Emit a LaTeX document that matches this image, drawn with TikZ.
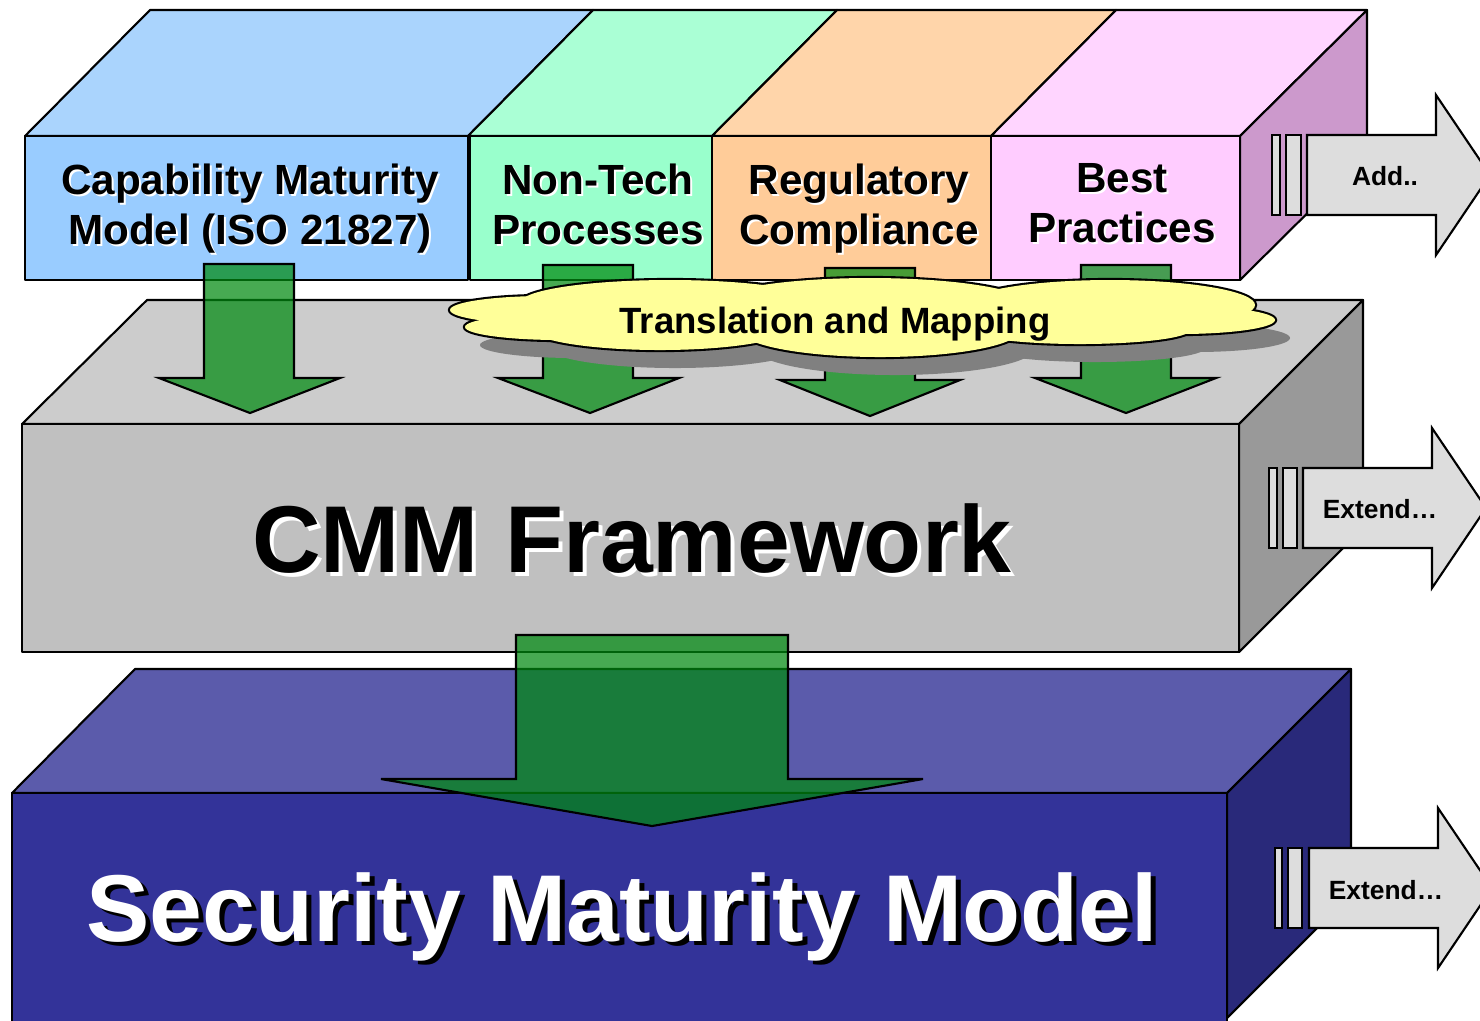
\documentclass[tikz,border=0pt]{standalone}
\usepackage{fontspec}
\setmainfont{Liberation Sans}
\usetikzlibrary{positioning}

\definecolor{blueTop}{HTML}{AAD4FD}
\definecolor{blueFront}{HTML}{99CCFF}
\definecolor{greenTop}{HTML}{AAFFD5}
\definecolor{greenFront}{HTML}{99FFCC}
\definecolor{orangeTop}{HTML}{FFD5AA}
\definecolor{orangeFront}{HTML}{FFCC99}
\definecolor{pinkTop}{HTML}{FFD5FF}
\definecolor{pinkFront}{HTML}{FFCCFF}
\definecolor{pinkSide}{HTML}{CC99CC}
\definecolor{grayTop}{HTML}{CCCCCC}
\definecolor{grayFront}{HTML}{C0C0C0}
\definecolor{graySide}{HTML}{999999}
\definecolor{navyTop}{HTML}{5B5BAB}
\definecolor{navyFront}{HTML}{333399}
\definecolor{navySide}{HTML}{29297A}
\definecolor{cloudYellow}{HTML}{FFFF99}
\definecolor{shadowGray}{HTML}{808080}
\definecolor{arrowGray}{HTML}{DDDDDD}
\definecolor{arrowGreen}{HTML}{008A10}

\tikzset{
	face/.style={draw=black, line width=0.6pt, line join=round},
	greenarrow/.style={draw=black, line width=0.6pt, line join=miter, fill=arrowGreen, fill opacity=0.72},
	grayarrow/.style={draw=black, line width=0.6pt, fill=arrowGray},
	toplbl/.style={font=\fontsize{12}{14.2}\selectfont\bfseries, align=center, inner sep=0, anchor=north},
	biglbl/.style={font=\fontsize{27}{30}\selectfont\bfseries, inner sep=0, anchor=base},
	sidelbl/.style={font=\fontsize{7.5}{9}\selectfont\bfseries, inner sep=0},
}

\begin{document}
\begin{tikzpicture}[x=0.01cm, y=-0.01cm]
	\useasboundingbox (0,0) rectangle (1480,1020);
	\clip (0,0) rectangle (1480,1020);
	\fill[white] (0,0) rectangle (1480,1020);

	% bottom block
	\draw[face, fill=navyTop] (12,793) -- (135,669) -- (1351,669) -- (1227,793) -- cycle;
	\draw[face, fill=navySide] (1227,793) -- (1351,669) -- (1351,894) -- (1227,1018) -- cycle;
	\draw[face, fill=navyFront] (12,793) rectangle (1227,1030);

	% middle block
	\draw[face, fill=grayTop] (22,424) -- (147,300) -- (1363,300) -- (1239,424) -- cycle;
	\draw[face, fill=graySide] (1239,424) -- (1363,300) -- (1363,528) -- (1239,652) -- cycle;
	\draw[face, fill=grayFront] (22,424) rectangle (1239,652);

	% top block
	\draw[face, fill=blueTop] (25,136) -- (150,10) -- (593,10) -- (468,136) -- cycle;
	\draw[face, fill=greenTop] (468,136) -- (593,10) -- (837,10) -- (712,136) -- cycle;
	\draw[face, fill=orangeTop] (712,136) -- (837,10) -- (1116,10) -- (991,136) -- cycle;
	\draw[face, fill=pinkTop] (991,136) -- (1116,10) -- (1367,10) -- (1240,136) -- cycle;
	\draw[face, fill=pinkSide] (1240,136) -- (1367,10) -- (1367,154) -- (1240,280) -- cycle;
	\draw[face, fill=blueFront] (25,136) rectangle (468,280);
	\draw[face, fill=greenFront] (470,136) rectangle (712,280);
	\draw[face, fill=orangeFront] (712,136) rectangle (991,280);
	\draw[face, fill=pinkFront] (991,136) rectangle (1240,280);

	% small green arrows
	\draw[greenarrow] (204,264) -- (294,264) -- (294,378) -- (340,378) -- (250,413) -- (159,378) -- (204,378) -- cycle;
	\draw[greenarrow] (543,265) -- (633,265) -- (633,378) -- (679,378) -- (590,413) -- (498,378) -- (543,378) -- cycle;
	\draw[greenarrow] (825,268) -- (915,268) -- (915,380) -- (960,380) -- (870,416) -- (780,380) -- (825,380) -- cycle;
	\draw[greenarrow] (1081,265) -- (1171,265) -- (1171,378) -- (1216,378) -- (1126,413) -- (1035,378) -- (1081,378) -- cycle;

	% cloud: shadow, outline, then fill
	\def\puffs{545/310/95/14, 560/327/95/13, 670/303/150/23, 870/305/160/27, 1110/305/145/25,
		1180/320/95/14, 1080/330/110/14, 880/330/140/27, 660/328/130/22, 860/318/330/22}
	\foreach \cx/\cy/\rx/\ry in \puffs
		\fill[shadowGray] (\cx+15,\cy+18) ellipse [x radius=\rx, y radius=\ry];
	\foreach \cx/\cy/\rx/\ry in \puffs
		\draw[black, line width=1.2pt] (\cx,\cy) ellipse [x radius=\rx, y radius=\ry];
	\foreach \cx/\cy/\rx/\ry in \puffs
		\fill[cloudYellow] (\cx,\cy) ellipse [x radius=\rx, y radius=\ry];
	\node[font=\fontsize{10.4}{12}\selectfont\bfseries, inner sep=0, anchor=base] (tm) at (835,333) {Translation and Mapping};

	% big green arrow
	\draw[greenarrow] (516,635) -- (788,635) -- (788,779) -- (923,779) -- (652,826) -- (381,779) -- (516,779) -- cycle;

	% side arrows
	\draw[grayarrow] (1272,135) rectangle (1280,215);
	\draw[grayarrow] (1286,135) rectangle (1301,215);
	\draw[grayarrow] (1307,135) -- (1436,135) -- (1436,95) -- (1490,175) -- (1436,255) -- (1436,215) -- (1307,215) -- cycle;
	\node[sidelbl] (add) at (1385,176) {Add..};

	\draw[grayarrow] (1269,468) rectangle (1277,548);
	\draw[grayarrow] (1283,468) rectangle (1297,548);
	\draw[grayarrow] (1303,468) -- (1432,468) -- (1432,428) -- (1486,508) -- (1432,588) -- (1432,548) -- (1303,548) -- cycle;
	\node[sidelbl] (ext1) at (1380,509) {Extend…};

	\draw[grayarrow] (1275,848) rectangle (1282,928);
	\draw[grayarrow] (1288,848) rectangle (1302,928);
	\draw[grayarrow] (1309,848) -- (1438,848) -- (1438,808) -- (1492,888) -- (1438,968) -- (1438,928) -- (1309,928) -- cycle;
	\node[sidelbl] (ext2) at (1386,890) {Extend…};

	% labels
	\begin{scope}
		\tikzstyle{every node}=[toplbl]
		\node[white] (cmmod-s) at (252,165) {Capability Maturity\\Model (ISO 21827)};
		\node (cmmod) at (250,163) {Capability Maturity\\Model (ISO 21827)};
		\node[white] (ntp-s) at (600,165) {Non-Tech\\Processes};
		\node (ntp) at (598,163) {Non-Tech\\Processes};
		\node[white] (rc-s) at (861,165) {Regulatory\\Compliance};
		\node (rc) at (859,163) {Regulatory\\Compliance};
		\node[white] (bp-s) at (1124,165) {Best\\Practices};
		\node (bp) at (1122,163) {Best\\Practices};
	\end{scope}

	\node[biglbl, white] (cmmf-s) at (636,576) {CMM Framework};
	\node[biglbl] (cmmf) at (632,572) {CMM Framework};
	\node[biglbl, black] (smm-s) at (627,945) {Security Maturity Model};
	\node[biglbl, white] (smm) at (622,941) {Security Maturity Model};
\end{tikzpicture}
\end{document}
